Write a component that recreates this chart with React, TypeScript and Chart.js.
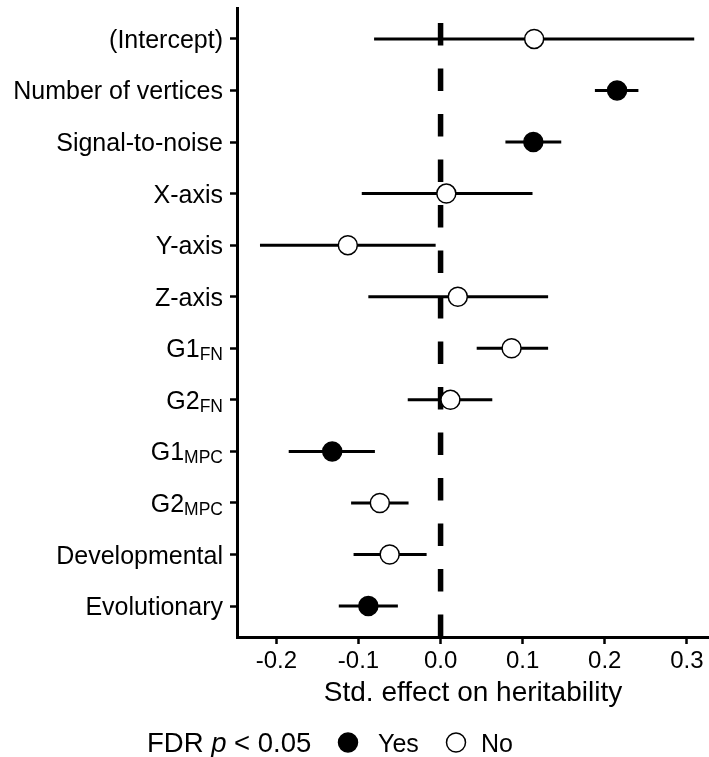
import React, { useEffect, useRef } from "react";
import { Chart, registerables } from "chart.js";

Chart.register(...registerables);

const FAMILY = '"Liberation Sans", Arial, Helvetica, sans-serif';

// Categories (top to bottom) and their subscript parts
const CATEGORIES = [
  "(Intercept)",
  "Number of vertices",
  "Signal-to-noise",
  "X-axis",
  "Y-axis",
  "Z-axis",
  "G1",
  "G2",
  "G1",
  "G2",
  "Developmental",
  "Evolutionary",
];
const SUBSCRIPTS = ["", "", "", "", "", "", "FN", "FN", "MPC", "MPC", "", ""];

// Estimates and confidence limits
const ESTIMATE = [0.114, 0.215, 0.113, 0.007, -0.113, 0.021, 0.0865, 0.012, -0.132, -0.074, -0.062, -0.088];
const LOWER = [-0.081, 0.188, 0.079, -0.096, -0.22, -0.088, 0.044, -0.04, -0.185, -0.109, -0.106, -0.124];
const UPPER = [0.309, 0.241, 0.147, 0.112, -0.006, 0.131, 0.131, 0.063, -0.08, -0.039, -0.017, -0.052];
// FDR p < 0.05 significance
const SIGNIFICANT = [false, true, true, false, false, false, false, false, true, false, false, true];

const X_TICKS = [-0.2, -0.1, 0, 0.1, 0.2, 0.3];
const X_TICK_LABELS = ["-0.2", "-0.1", "0.0", "0.1", "0.2", "0.3"];
const X_TITLE = "Std. effect on heritability";

const LEGEND_TITLE_PARTS = ["FDR ", "p", " < 0.05"];
const LEGEND_LABELS = ["Yes", "No"];

export default function App() {
  const canvasRef = useRef<HTMLCanvasElement | null>(null);

  useEffect(() => {
    const canvas = canvasRef.current;
    if (!canvas) return;

    const errorDatasets = CATEGORIES.map((_, i) => ({
      type: "scatter" as const,
      data: [
        { x: LOWER[i], y: i + 1 },
        { x: UPPER[i], y: i + 1 },
      ],
      showLine: true,
      borderColor: "#000",
      borderWidth: 3,
      pointRadius: 0,
      order: 2,
    }));

    const sigPoints = ESTIMATE.map((v, i) => ({ x: v, y: i + 1 })).filter((_, i) => SIGNIFICANT[i]);
    const nsPoints = ESTIMATE.map((v, i) => ({ x: v, y: i + 1 })).filter((_, i) => !SIGNIFICANT[i]);

    const yLabelPlugin = {
      id: "yLabels",
      afterDraw(chart: any) {
        const ctx = chart.ctx;
        const ys = chart.scales.y;
        ctx.save();
        ctx.fillStyle = "#000";
        ctx.textBaseline = "alphabetic";
        ctx.textAlign = "left";
        const right = ys.right - 14;
        CATEGORIES.forEach((lab, i) => {
          const y = ys.getPixelForValue(i + 1) + 9;
          const sub = SUBSCRIPTS[i];
          ctx.font = `25px ${FAMILY}`;
          const wMain = ctx.measureText(lab).width;
          ctx.font = `17.5px ${FAMILY}`;
          const wSub = sub ? ctx.measureText(sub).width : 0;
          ctx.font = `25px ${FAMILY}`;
          ctx.fillText(lab, right - wSub - wMain, y);
          if (sub) {
            ctx.font = `17.5px ${FAMILY}`;
            ctx.fillText(sub, right - wSub, y + 3);
          }
        });

        // Legend
        const ly = 742.5;
        const base = ly + 9;
        let x = 147;
        ctx.fillStyle = "#000";
        ctx.font = `27.5px ${FAMILY}`;
        ctx.fillText(LEGEND_TITLE_PARTS[0], x, base);
        x += ctx.measureText(LEGEND_TITLE_PARTS[0]).width;
        ctx.font = `italic 27.5px ${FAMILY}`;
        ctx.fillText(LEGEND_TITLE_PARTS[1], x, base);
        x += ctx.measureText(LEGEND_TITLE_PARTS[1]).width;
        ctx.font = `27.5px ${FAMILY}`;
        ctx.fillText(LEGEND_TITLE_PARTS[2], x, base);

        ctx.lineWidth = 1.5;
        ctx.strokeStyle = "#000";
        ctx.beginPath();
        ctx.arc(348, ly, 9.5, 0, Math.PI * 2);
        ctx.fillStyle = "#000";
        ctx.fill();
        ctx.stroke();
        ctx.font = `25px ${FAMILY}`;
        ctx.fillText(LEGEND_LABELS[0], 378, base);

        ctx.beginPath();
        ctx.arc(456, ly, 9.5, 0, Math.PI * 2);
        ctx.fillStyle = "#fff";
        ctx.fill();
        ctx.stroke();
        ctx.fillStyle = "#000";
        ctx.fillText(LEGEND_LABELS[1], 481, base);
        ctx.restore();
      },
    };

    const chart = new Chart(canvas, {
      type: "scatter",
      data: {
        datasets: [
          {
            label: "Yes",
            data: sigPoints,
            backgroundColor: "#000",
            borderColor: "#000",
            borderWidth: 1.5,
            pointRadius: 9.5,
            pointHoverRadius: 9.5,
            order: 0,
          },
          {
            label: "No",
            data: nsPoints,
            backgroundColor: "#fff",
            borderColor: "#000",
            borderWidth: 1.5,
            pointRadius: 9.5,
            pointHoverRadius: 9.5,
            order: 0,
          },
          ...errorDatasets,
          {
            label: "zero",
            data: [
              { x: 0, y: 12.6 },
              { x: 0, y: 0.4 },
            ],
            showLine: true,
            borderColor: "#000",
            borderWidth: 5.5,
            borderDash: [22.5, 23],
            pointRadius: 0,
            order: 3,
          },
        ] as any,
      },
      options: {
        animation: false,
        responsive: false,
        maintainAspectRatio: false,
        layout: { autoPadding: false, padding: { top: 8, left: 0, right: 0, bottom: 0 } },
        plugins: {
          legend: { display: false },
          tooltip: { enabled: false },
        },
        scales: {
          x: {
            type: "linear",
            min: -0.248,
            max: 0.327,
            afterBuildTicks: (s: any) => {
              s.ticks = X_TICKS.map((v) => ({ value: v }));
            },
            afterFit: (s: any) => {
              s.height = 120;
              s.paddingLeft = 0;
              s.paddingRight = 0;
              s.paddingTop = 0;
              s.paddingBottom = 0;
            },
            ticks: {
              callback: (_v: any, i: number) => X_TICK_LABELS[i],
              font: { family: FAMILY, size: 24 },
              color: "#000",
              padding: 3,
              maxRotation: 0,
              autoSkip: false,
            },
            grid: {
              drawOnChartArea: false,
              drawTicks: true,
              tickLength: 7,
              tickWidth: 2.5,
              tickColor: "#000",
              color: "#000",
            },
            border: { display: true, color: "#000", width: 3 },
            title: {
              display: true,
              text: X_TITLE,
              font: { family: FAMILY, size: 28 },
              color: "#000",
              padding: { top: 0, bottom: 47 },
            },
          },
          y: {
            type: "linear",
            min: 0.4,
            max: 12.6,
            reverse: true,
            afterBuildTicks: (s: any) => {
              s.ticks = CATEGORIES.map((_, i) => ({ value: i + 1 }));
            },
            afterFit: (s: any) => {
              s.width = 237;
              s.paddingLeft = 0;
              s.paddingRight = 0;
              s.paddingTop = 0;
              s.paddingBottom = 0;
            },
            ticks: { display: false },
            grid: {
              drawOnChartArea: false,
              drawTicks: true,
              tickLength: 7,
              tickWidth: 2.5,
              tickColor: "#000",
              color: "#000",
            },
            border: { display: true, color: "#000", width: 3 },
          },
        },
      } as any,
      plugins: [yLabelPlugin],
    });

    return () => chart.destroy();
  }, []);

  return (
    <div style={{ position: "fixed", left: 0, top: 0, width: 709, height: 757, background: "#fff" }}>
      <canvas ref={canvasRef} width={709} height={757} style={{ display: "block" }} />
    </div>
  );
}
